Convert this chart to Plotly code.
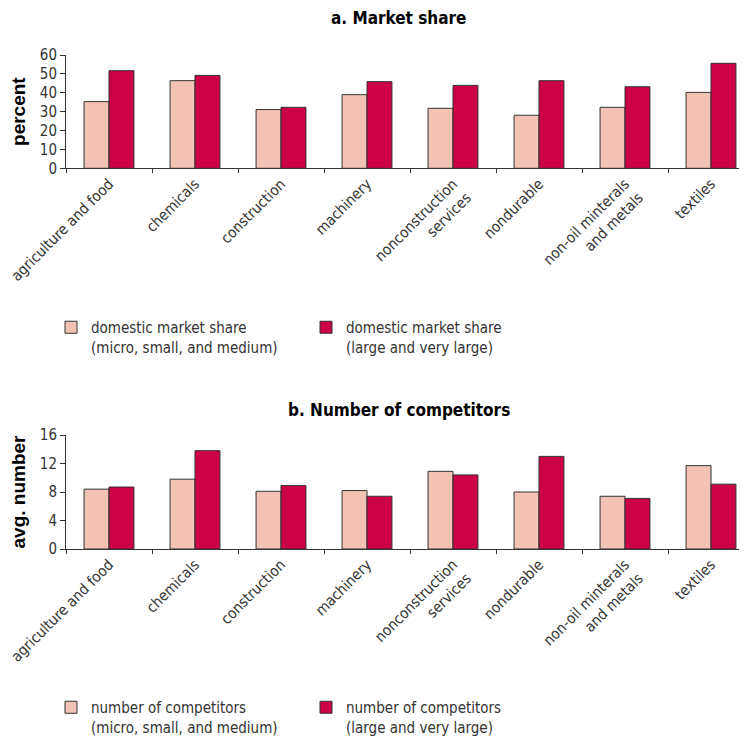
import plotly.graph_objects as go

categories = ["agriculture and food", "chemicals", "construction", "machinery",
              "nonconstruction<br>services", "nondurable",
              "non-oil minterals<br>and metals", "textiles"]

share_small = [35.3, 46.4, 31.1, 39.0, 31.8, 28.1, 32.3, 40.2]
share_large = [51.7, 49.2, 32.3, 45.9, 43.9, 46.4, 43.2, 55.6]

comp_small = [8.4, 9.8, 8.1, 8.2, 10.9, 8.0, 7.4, 11.7]
comp_large = [8.7, 13.8, 8.9, 7.4, 10.4, 13.0, 7.1, 9.1]

share_ticks = [0, 10, 20, 30, 40, 50, 60]
comp_ticks = [0, 4, 8, 12, 16]

LIGHT = "#F2C3B5"
DARK = "#CC0044"
EDGE = "#333333"
NARROW = "DejaVu Sans Condensed"
BOLD = "Liberation Sans, Arial"

# page body has an 8px margin; figure is sized to fill the rest of the window
W, H = 739, 731
OFF = 8


def py(pix):
    """screen pixel (y) -> paper fraction"""
    return 1 - (pix - OFF) / H


def px(pix):
    """screen pixel (x) -> paper fraction"""
    return (pix - OFF) / W


fig = go.Figure()

fig.add_trace(go.Bar(x=categories, y=share_small, name="domestic market share<br>(micro, small, and medium)",
                     marker=dict(color=LIGHT, line=dict(color=EDGE, width=1)),
                     xaxis="x", yaxis="y", legend="legend"))
fig.add_trace(go.Bar(x=categories, y=share_large, name="domestic market share<br>(large and very large)",
                     marker=dict(color=DARK, line=dict(color=EDGE, width=1)),
                     xaxis="x", yaxis="y", legend="legend"))
fig.add_trace(go.Bar(x=categories, y=comp_small, name="number of competitors<br>(micro, small, and medium)",
                     marker=dict(color=LIGHT, line=dict(color=EDGE, width=1)),
                     xaxis="x2", yaxis="y2", legend="legend2"))
fig.add_trace(go.Bar(x=categories, y=comp_large, name="number of competitors<br>(large and very large)",
                     marker=dict(color=DARK, line=dict(color=EDGE, width=1)),
                     xaxis="x2", yaxis="y2", legend="legend2"))

AX_LEFT = 66  # screen x of the y axis
CAT_W = 86.0  # pixel width of a category
xrange_ = [-0.5, -0.5 + (747 - AX_LEFT) / CAT_W]

xcommon = dict(domain=[px(AX_LEFT), 1], range=xrange_, showline=True, linecolor=EDGE, linewidth=1,
               ticks="outside", ticklen=4, tickcolor=EDGE, tickson="boundaries",
               tickangle=-45, tickfont=dict(family=NARROW, size=15, color="#333333"),
               showgrid=False, zeroline=False, automargin=False)
ycommon = dict(showline=True, linecolor=EDGE, linewidth=1, ticks="outside", ticklen=5,
               tickcolor=EDGE, tickfont=dict(family=NARROW, size=15, color="#333333"),
               showgrid=False, zeroline=False, automargin=False)

legfont = dict(family=NARROW, size=15, color="#333333")

fig.update_layout(
    width=W, height=H,
    margin=dict(l=0, r=0, t=0, b=0, autoexpand=False),
    paper_bgcolor="white", plot_bgcolor="white",
    barmode="group", bargap=0.42, bargroupgap=0,
    showlegend=True,
    xaxis=dict(**xcommon, anchor="y"),
    yaxis=dict(**ycommon, domain=[py(168.3), py(55)], range=[0, 60], tickvals=share_ticks,
               anchor="x", title=dict(text="<b>percent</b>", font=dict(family=BOLD, size=19, color="black"), standoff=14)),
    xaxis2=dict(**xcommon, anchor="y2"),
    yaxis2=dict(**ycommon, domain=[py(549), py(435)], range=[0, 16], tickvals=comp_ticks,
                anchor="x2", title=dict(text="<b>avg. number</b>", font=dict(family=BOLD, size=19, color="black"), standoff=14)),
    legend=dict(orientation="h", x=px(51), y=py(311), xanchor="left", yanchor="top",
                font=legfont, valign="top",
                entrywidth=210, entrywidthmode="pixels", traceorder="normal", bgcolor="rgba(0,0,0,0)"),
    legend2=dict(orientation="h", x=px(51), y=py(691), xanchor="left", yanchor="top",
                 font=legfont, valign="top",
                 entrywidth=210, entrywidthmode="pixels", traceorder="normal", bgcolor="rgba(0,0,0,0)"),
    annotations=[
        dict(text="<b>a. Market share</b>", x=px(399), y=py(18), xref="paper", yref="paper",
             showarrow=False, font=dict(family=NARROW, size=17, color="black"), yanchor="middle"),
        dict(text="<b>b. Number of competitors</b>", x=px(399), y=py(410), xref="paper", yref="paper",
             showarrow=False, font=dict(family=NARROW, size=17, color="black"), yanchor="middle"),
    ],
)

fig.write_html("out.html")
